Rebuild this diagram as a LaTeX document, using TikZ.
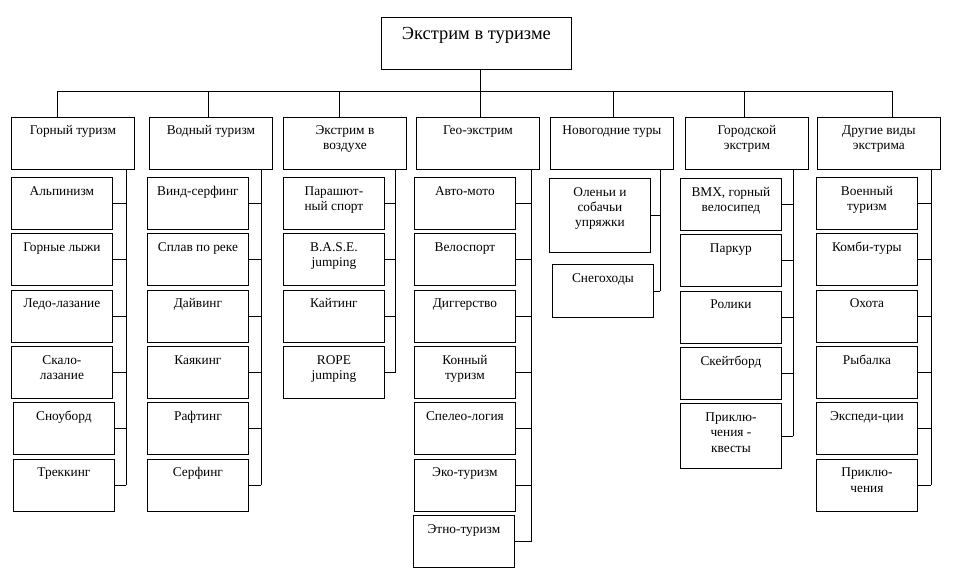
\documentclass[tikz,border=0pt]{standalone}
\usepackage{fontspec}
\setmainfont{Liberation Serif}
\usetikzlibrary{positioning}

\begin{document}
\begin{tikzpicture}[
    x=0.02cm, y=-0.02cm,
    node distance=0.07cm,
    cell/.style n args={3}{draw, line width=0.5pt, inner sep=0pt, anchor=north west,
        execute at begin node={\begin{minipage}[t][#2][t]{#1}\centering\rule{0pt}{#3}},
        execute at end node={\end{minipage}}},
    head/.style={cell={3.8cm}{1.04cm}{12.5pt}, font=\fontsize{10.5}{12}\selectfont},
    cat/.style={cell={2.46cm}{1.04cm}{9.6pt}, font=\fontsize{7.6}{8.9}\selectfont},
    kid/.style={cell={2.02cm}{#1}{10pt}, font=\fontsize{7.6}{8.8}\selectfont},
    kid/.default=1.04cm,
    link/.style={line width=0.5pt}
]
\useasboundingbox (0,0) rectangle (971,576);

%% root and categories
\node[head] (top) at (381,17) {Экстрим в туризме};
\node[cat] (g0) at (11,117) {Горный туризм};
\node[cat] (v0) at (149,117) {Водный туризм};
\node[cat] (a0) at (283,117) {Экстрим в\\воздухе};
\node[cat] (e0) at (416,117) {Гео-экстрим};
\node[cat] (n0) at (550,117) {Новогодние туры};
\node[cat] (c0) at (685,117) {Городской\\экстрим};
\node[cat] (d0) at (817,117) {Другие виды\\экстрима};

%% Горный туризм
\node[kid] (g1) at (11,177) {Альпинизм};
\node[kid, below=of g1] (g2) {Горные лыжи};
\node[kid, below=of g2] (g3) {Ледо-лазание};
\node[kid, below=of g3] (g4) {Скало-\\лазание};
\node[kid, below=of g4, xshift=0.04cm] (g5) {Сноуборд};
\node[kid, below=of g5] (g6) {Треккинг};

%% Водный туризм
\node[kid] (v1) at (147,177) {Винд-серфинг};
\node[kid, below=of v1] (v2) {Сплав по реке};
\node[kid, below=of v2] (v3) {Дайвинг};
\node[kid, below=of v3] (v4) {Каякинг};
\node[kid, below=of v4] (v5) {Рафтинг};
\node[kid, below=of v5] (v6) {Серфинг};

%% Экстрим в воздухе
\node[kid] (a1) at (283,177) {Парашют-\\ный спорт};
\node[kid, below=of a1] (a2) {B.A.S.E.\\jumping};
\node[kid, below=of a2] (a3) {Кайтинг};
\node[kid, below=of a3] (a4) {ROPE\\jumping};

%% Гео-экстрим
\node[kid] (e1) at (414,177) {Авто-мото};
\node[kid, below=of e1] (e2) {Велоспорт};
\node[kid, below=of e2] (e3) {Диггерство};
\node[kid, below=of e3] (e4) {Конный\\туризм};
\node[kid, below=of e4] (e5) {Спелео-логия};
\node[kid, below=of e5] (e6) {Эко-туризм};
\node[kid, below=of e6, xshift=-0.02cm] (e7) {Этно-туризм};

%% Новогодние туры
\node[kid=1.48cm] (n1) at (549,178) {Оленьи и\\собачьи\\упряжки};
\node[kid=1.06cm] (n2) at (552,264) {Снегоходы};

%% Городской экстрим
\node[kid] (c1) at (680,178) {BMX, горный\\велосипед};
\node[kid, below=of c1] (c2) {Паркур};
\node[kid, below=of c2] (c3) {Ролики};
\node[kid, below=of c3] (c4) {Скейтборд};
\node[kid=1.3cm, below=of c4] (c5) {Приклю-\\чения -\\квесты};

%% Другие виды экстрима
\node[kid] (d1) at (816,177) {Военный\\туризм};
\node[kid, below=of d1] (d2) {Комби-туры};
\node[kid, below=of d2] (d3) {Охота};
\node[kid, below=of d3] (d4) {Рыбалка};
\node[kid, below=of d4] (d5) {Экспеди-ции};
\node[kid, below=of d5] (d6) {Приклю-\\чения};

%% bus under the root
\coordinate (bus) at (0,91);
\draw[link] ([xshift=0.08cm]top.south) -- ([xshift=0.08cm]top.south |- e0.north);
\foreach \c/\d in {g/-0.31cm, v/-0.05cm, a/-0.11cm, n/0.04cm, c/-0.05cm, d/0.28cm}
    \draw[link] ([xshift=\d]\c0.north) -- ([xshift=\d]\c0.north |- bus);
\draw[link] ([xshift=-0.31cm]g0.north |- bus) -- ([xshift=0.28cm]d0.north |- bus);

%% spines with their branches
\coordinate (sg) at (126,0);
\coordinate (sv) at (261,0);
\coordinate (sa) at (395,0);
\coordinate (se) at (531,0);
\coordinate (sn) at (660,0);
\coordinate (sc) at (793,0);
\coordinate (sd) at (931,0);
\foreach \c/\k in {g/6, v/6, a/4, e/7, n/2, c/5, d/6} {
    \draw[link] (\c0.south -| s\c) -- (\c\k.east -| s\c);
    \foreach \i in {1,...,\k}
        \draw[link] (\c\i.east) -- (\c\i.east -| s\c);
}

\end{tikzpicture}
\end{document}
